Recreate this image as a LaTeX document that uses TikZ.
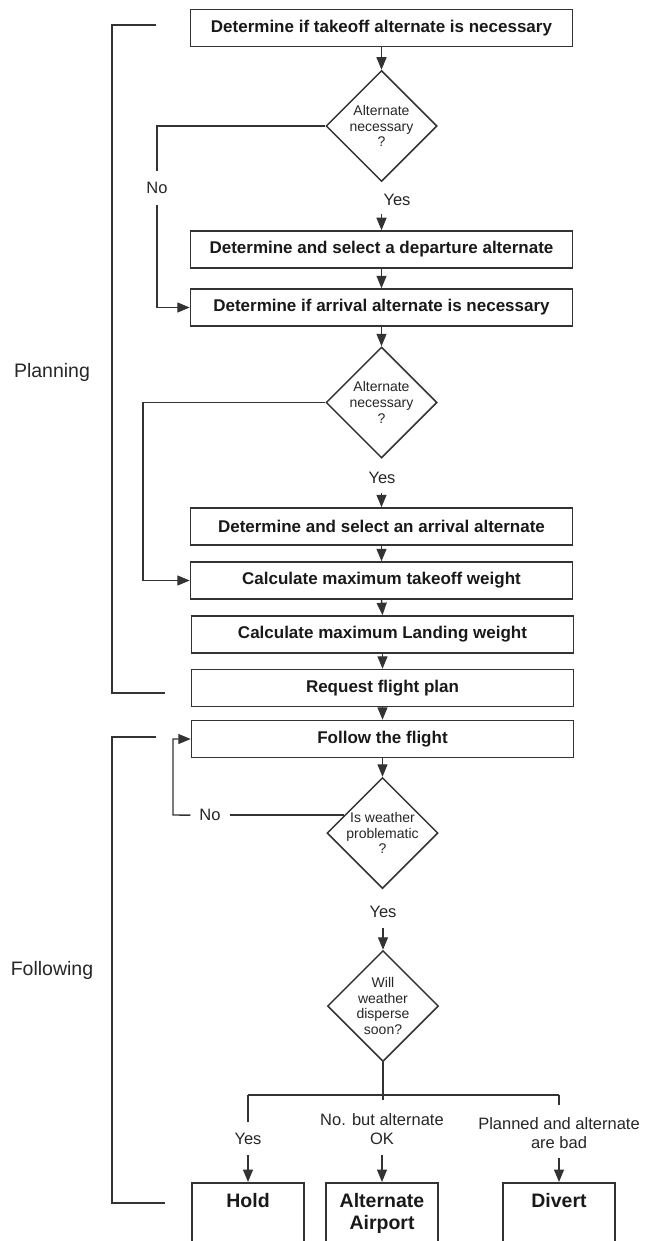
\documentclass[tikz,border=0pt]{standalone}
\usepackage{fontspec}
\setmainfont{Liberation Sans}
\usetikzlibrary{shapes.geometric,arrows.meta}
\begin{document}
\begin{tikzpicture}[x=1pt,y=-1pt,
  ln/.style={draw=black!80, line width=1.4pt},
  arr/.style={ln, -{Triangle[length=12.5pt,width=10pt]}},
  stepbox/.style={draw=black!80, line width=1.5pt, minimum width=382pt, minimum height=37pt, inner sep=0pt, text=black!90, font=\bfseries\fontsize{17}{19}\selectfont},
  dia/.style={diamond, draw=black!80, line width=1.5pt, minimum width=111pt, minimum height=111pt, inner sep=0pt},
  dtext/.style={align=center, inner sep=0pt, text=black!85, font=\fontsize{14}{15.7}\selectfont},
  lab/.style={align=center, inner sep=0pt, text=black!85, font=\fontsize{16.5}{19.5}\selectfont},
  gaplab/.style={lab, inner xsep=9pt, inner ysep=11pt},
  side/.style={inner sep=0pt, text=black!85, font=\fontsize{19.5}{22}\selectfont},
  endbox/.style={draw=black!80, line width=1.5pt, anchor=north, minimum width=112pt, minimum height=80pt, inner sep=0pt},
  etext/.style={anchor=north, align=center, inner sep=0pt, text=black!90, font=\bfseries\fontsize{19.5}{22.5}\selectfont}
]
\useasboundingbox (0,0) rectangle (647,1241);

% boxes
\node[stepbox] (b1) at (381.5,28) {Determine if takeoff alternate is necessary};
\node[dia] (d1) at (381.5,126) {};
\node[dtext] (d1t) at (d1) {Alternate\\necessary\\?};
\node[lab] (y1) at (397,200) {Yes};
\node[stepbox] (b2) at (381.5,249.5) {Determine and select a departure alternate};
\node[stepbox] (b3) at (381.5,307.5) {Determine if arrival alternate is necessary};
\node[dia] (d2) at (381.5,402.5) {};
\node[dtext] (d2t) at (d2) {Alternate\\necessary\\?};
\node[lab] (y2) at (382,478) {Yes};
\node[stepbox] (b4) at (381.5,526.5) {Determine and select an arrival alternate};
\node[stepbox] (b5) at (381.5,580.5) {Calculate maximum takeoff weight};
\node[stepbox] (b6) at (382.5,634.5) {Calculate maximum Landing weight};
\node[stepbox] (b7) at (382.5,688) {Request flight plan};
\node[stepbox] (b8) at (382.5,739) {Follow the flight};
\node[dia] (d3) at (382.5,833) {};
\node[dtext] (d3t) at (d3) {Is weather\\problematic\\?};
\node[lab] (y3) at (383,912) {Yes};
\node[dia] (d4) at (383,1006) {};
\node[dtext] (d4t) at (d4) {Will\\weather\\disperse\\soon?};

\node[gaplab] (no1) at (157,188) {No};
\node[gaplab] (no3) at (210,815) {No};

\node[lab] (lyes) at (248,1139) {Yes};
\node[lab] (lmid) at (382,1129) {No. but alternate\\OK};
\node[lab] (lright) at (559,1133) {Planned and alternate\\are bad};

\node[endbox] (hold) at (248,1182) {};
\node[endbox] (alt) at (382,1182) {};
\node[endbox] (div) at (559,1182) {};
\node[etext] (holdt) at (248,1193) {Hold};
\node[etext] (altt) at (382,1193) {Alternate\\Airport};
\node[etext] (divt) at (559,1193) {Divert};

\node[side] (plan) at (52,372) {Planning};
\node[side] (foll) at (52,970) {Following};

% coordinates
\coordinate (c1) at (157,126);
\coordinate (c2) at (143,402.5);
\coordinate (c3) at (173,815);
\coordinate (a1) at (381.5,214);
\coordinate (a2) at (381.5,493);
\coordinate (a3) at (383,928);
\coordinate (j) at (383,1095);
\coordinate (jl) at (248,1095);
\coordinate (jr) at (559,1095);
\coordinate (sl) at (248,1122);
\coordinate (sm) at (383,1100);
\coordinate (sr) at (559,1105);
\coordinate (al) at (248,1155);
\coordinate (am) at (382,1155);
\coordinate (ar) at (559,1158);
\coordinate (p1) at (156,25);
\coordinate (p2) at (112,25);
\coordinate (p3) at (112,693);
\coordinate (p4) at (165,693);
\coordinate (f1) at (156,737);
\coordinate (f2) at (112,737);
\coordinate (f3) at (112,1203);
\coordinate (f4) at (165,1203);

% connectors
\draw[arr] (b1.south) -- (d1.north);
\draw[ln] (d1.west) -- (c1) -- (no1.north);
\draw[arr] (no1.south) |- (b3.west);
\draw[arr] (a1) -- (b2.north);
\draw[arr] (b2.south) -- (b3.north);
\draw[arr] (b3.south) -- (d2.north);
\draw[arr] (d2.west) -- (c2) |- (b5.west);
\draw[arr] (a2) -- (b4.north);
\draw[arr] (b4.south) -- (b5.north);
\draw[arr] (b5.south) -- (b6.north);
\draw[arr] (b6.south) -- (b7.north);
\draw[arr] (b7.south) -- (b8.north);
\draw[arr] (b8.south) -- (d3.north);
\draw[ln] (d3.155) -- (d3.155 -| no3.east);
\draw[arr] (no3.west |- d3.155) -- (c3) |- (b8.west);
\draw[arr] (a3) -- (d4.north);
\draw[ln] (d4.south) -- (j);
\draw[ln] (jl) -- (jr);
\draw[ln] (jl) -- (sl);
\draw[ln] (j) -- (sm);
\draw[ln] (jr) -- (sr);
\draw[arr] (al) -- (hold.north);
\draw[arr] (am) -- (alt.north);
\draw[arr] (ar) -- (div.north);

\draw[ln] (p1) -- (p2) -- (p3) -- (p4);
\draw[ln] (f1) -- (f2) -- (f3) -- (f4);
\end{tikzpicture}
\end{document}
